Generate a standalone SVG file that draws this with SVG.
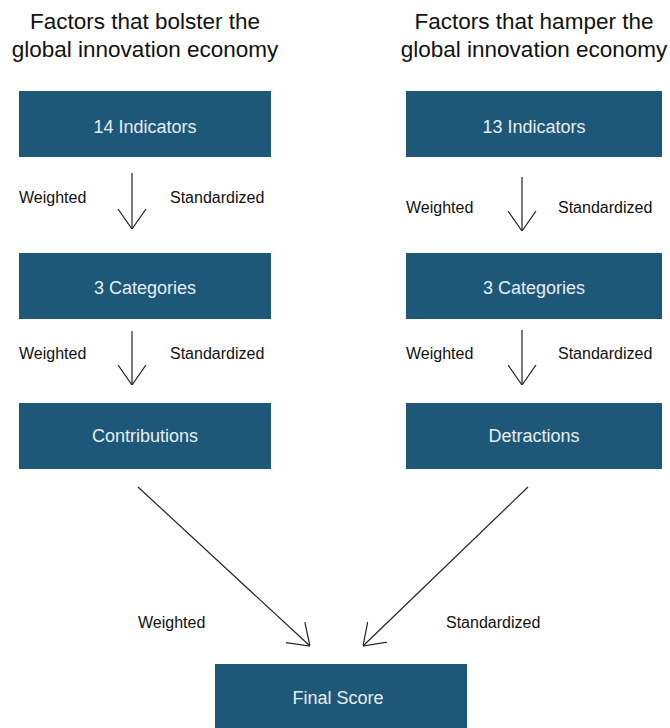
<svg xmlns="http://www.w3.org/2000/svg" width="670" height="728" viewBox="0 0 670 728">
<defs>
<style>
.box{fill:#1d5878}
.bt{font-family:"Liberation Sans",Arial,sans-serif;font-size:18px;fill:#e6eef3;text-anchor:middle;dominant-baseline:central}
.lb{font-family:"Liberation Sans",Arial,sans-serif;font-size:16px;fill:#111;dominant-baseline:central}
.tt{font-family:"Liberation Sans",Arial,sans-serif;font-size:22.5px;fill:#111;text-anchor:middle}
.cn{stroke:#222;stroke-width:1.2;fill:none}
</style>
<marker id="ah" viewBox="0 0 20 30" refX="20" refY="15" markerWidth="20" markerHeight="30" markerUnits="userSpaceOnUse" orient="auto">
<path d="M0,1 L20,15 L0,29" fill="none" stroke="#222" stroke-width="1.2"/>
</marker>
</defs>
<rect width="670" height="728" fill="#fff"/>
<g id="titles">
<text class="tt" x="145" y="29">Factors that bolster the</text>
<text class="tt" x="145" y="57">global innovation economy</text>
<text class="tt" x="534" y="29">Factors that hamper the</text>
<text class="tt" x="534" y="57">global innovation economy</text>
</g>
<g id="n-l1"><rect class="box" x="19" y="91" width="252" height="66"/><text class="bt" x="145" y="127">14 Indicators</text></g>
<g id="n-r1"><rect class="box" x="406" y="91" width="256" height="66"/><text class="bt" x="534" y="127">13 Indicators</text></g>
<g id="n-l2"><rect class="box" x="19" y="253" width="252" height="66"/><text class="bt" x="145" y="288">3 Categories</text></g>
<g id="n-r2"><rect class="box" x="406" y="253" width="256" height="66"/><text class="bt" x="534" y="288">3 Categories</text></g>
<g id="n-l3"><rect class="box" x="19" y="403" width="252" height="66"/><text class="bt" x="145" y="436">Contributions</text></g>
<g id="n-r3"><rect class="box" x="406" y="403" width="256" height="66"/><text class="bt" x="534" y="436">Detractions</text></g>
<g id="n-final"><rect class="box" x="215" y="664" width="252" height="70"/><text class="bt" x="338" y="698">Final Score</text></g>
<g id="connectors">
<line class="cn" x1="132" y1="173" x2="132" y2="229" marker-end="url(#ah)"/>
<line class="cn" x1="522" y1="177" x2="522" y2="231" marker-end="url(#ah)"/>
<line class="cn" x1="132" y1="331" x2="132" y2="385" marker-end="url(#ah)"/>
<line class="cn" x1="522" y1="330" x2="522" y2="385" marker-end="url(#ah)"/>
<line class="cn" x1="138" y1="487" x2="310" y2="646" marker-end="url(#ah)"/>
<line class="cn" x1="528" y1="487" x2="363" y2="646" marker-end="url(#ah)"/>
</g>
<g id="labels">
<text class="lb" x="19" y="197">Weighted</text>
<text class="lb" x="170" y="197">Standardized</text>
<text class="lb" x="406" y="207">Weighted</text>
<text class="lb" x="558" y="207">Standardized</text>
<text class="lb" x="19" y="353">Weighted</text>
<text class="lb" x="170" y="353">Standardized</text>
<text class="lb" x="406" y="353">Weighted</text>
<text class="lb" x="558" y="353">Standardized</text>
<text class="lb" x="138" y="622">Weighted</text>
<text class="lb" x="446" y="622">Standardized</text>
</g>
</svg>
